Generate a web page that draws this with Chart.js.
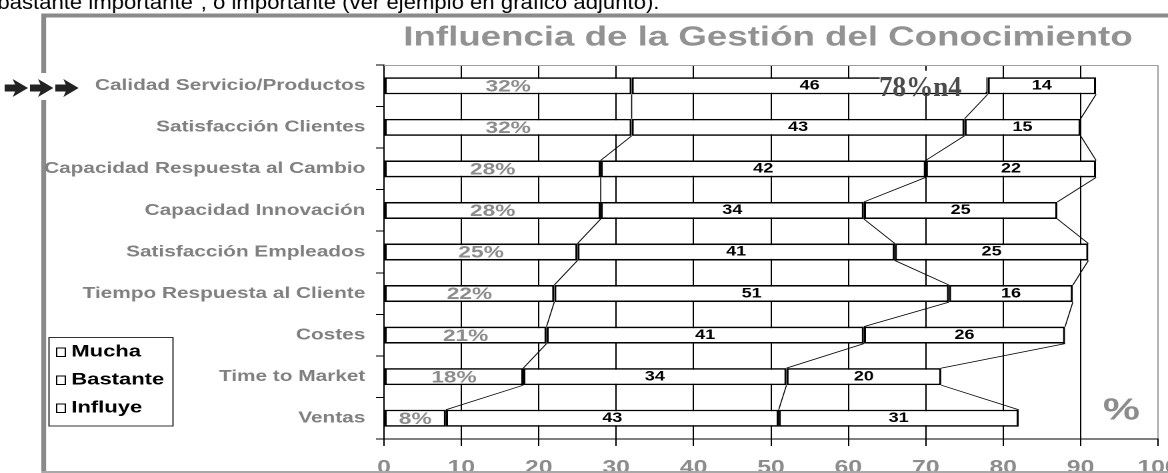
<!DOCTYPE html>
<html>
<head>
<meta charset="utf-8">
<script src="https://cdn.jsdelivr.net/npm/chart.js@4/dist/chart.umd.min.js"></script>
<style>
  html, body { margin: 0; padding: 0; background: #fff; overflow: hidden; }
  /* the source picture is stretched sideways, so the whole chart is too */
  #wrap { width: 876px; height: 473px; transform: scaleX(1.33333); transform-origin: 0 0; }
</style>
</head>
<body>
<div id="wrap"><canvas id="chart"></canvas></div>
<script>
const categories = [
  'Calidad Servicio/Productos',
  'Satisfacción Clientes',
  'Capacidad Respuesta al Cambio',
  'Capacidad Innovación',
  'Satisfacción Empleados',
  'Tiempo Respuesta al Cliente',
  'Costes',
  'Time to Market',
  'Ventas'
];
const seriesNames = ['Mucha', 'Bastante', 'Influye'];
const mucha = [32, 32, 28, 28, 25, 22, 21, 18, 8];
const bastante = [46, 43, 42, 34, 41, 51, 41, 34, 43];
const influye = [14, 15, 22, 25, 25, 16, 26, 20, 31];
const xTicks = [0, 10, 20, 30, 40, 50, 60, 70, 80, 90, 100];
const extraLabel = '78%n4';
const title = 'Influencia de la Gestión del Conocimiento';
const topText = 'bastante importante", o importante (ver ejemplo en gráfico adjunto).';

const GREY = '#8c8c8c';
const FONT = "'Liberation Sans', Arial, sans-serif";

const decor = {
  id: 'decor',
  beforeDraw(chart) {
    const c = chart.ctx;
    c.save();
    c.fillStyle = '#fff';
    c.fillRect(0, 0, chart.width, chart.height);
    // sentence cut off above the chart
    c.save();
    c.fillStyle = '#000';
    c.font = '16.6px ' + FONT;
    c.textBaseline = 'alphabetic';
    c.translate(-2, 9);
    c.scale(1, 1.25);
    c.fillText(topText, 0, 0);
    c.restore();
    // grey frame
    c.fillStyle = '#8a8a8a';
    c.fillRect(31, 13.5, chart.width, 4);
    c.fillRect(31, 13.5, 3.6, chart.height);
    // title
    c.fillStyle = '#929292';
    c.font = 'bold 27.5px ' + FONT;
    c.textAlign = 'center';
    c.textBaseline = 'middle';
    c.fillText(title, 576, 38);
    c.restore();
  },
  afterDatasetsDraw(chart) {
    const c = chart.ctx;
    c.save();
    // series lines between bars
    c.strokeStyle = '#000';
    c.lineWidth = 0.8;
    chart.data.datasets.forEach((ds, d) => {
      const pts = chart.getDatasetMeta(d).data;
      for (let i = 0; i < pts.length - 1; i++) {
        const a = pts[i], b = pts[i + 1];
        c.beginPath();
        c.moveTo(a.x, a.y + a.height / 2);
        c.lineTo(b.x, b.y - b.height / 2);
        c.stroke();
      }
    });
    // value labels
    c.textAlign = 'center';
    c.textBaseline = 'middle';
    chart.data.datasets.forEach((ds, d) => {
      chart.getDatasetMeta(d).data.forEach((el, i) => {
        const x = (el.x + el.base) / 2;
        if (d === 0) {
          c.fillStyle = GREY;
          c.font = 'bold 17px ' + FONT;
          c.fillText(ds.data[i] + '%', x, el.y + 1);
        } else {
          c.fillStyle = '#000';
          c.font = 'bold 13.5px ' + FONT;
          c.fillText(String(ds.data[i]), x, el.y);
        }
      });
    });
    // odd label on the first bar
    const el = chart.getDatasetMeta(1).data[0];
    c.fillStyle = '#fff';
    c.fillRect(el.x - 81, el.y - 15, 80, 21);
    c.fillStyle = '#4a4a4a';
    c.font = 'bold 28px "Liberation Serif", "Times New Roman", serif';
    c.textAlign = 'right';
    c.textBaseline = 'alphabetic';
    const w = c.measureText(extraLabel).width;
    c.translate(el.x - 19.5, el.y + 10);
    c.scale(62 / w, 1);
    c.fillText(extraLabel, 0, 0);
    c.restore();
  },
  afterDraw(chart) {
    const c = chart.ctx;
    const a = chart.chartArea;
    c.save();
    // plot frame top
    c.strokeStyle = '#a0a0a0';
    c.lineWidth = 1;
    c.beginPath();
    c.moveTo(a.left, a.top + 0.5);
    c.lineTo(a.right, a.top + 0.5);
    c.stroke();
    // arrows
    c.fillStyle = '#fff';
    c.fillRect(28, 73, 36, 27);
    c.fillStyle = '#222';
    [3.5, 22.5, 41.5].forEach(x0 => {
      c.fillRect(x0, 84.5, 10, 7);
      c.beginPath();
      c.moveTo(x0 + 6, 79);
      c.lineTo(x0 + 17.5, 88);
      c.lineTo(x0 + 6, 97);
      c.lineTo(x0 + 9, 88);
      c.closePath();
      c.fill();
    });
    // legend
    c.fillStyle = '#fff';
    c.fillRect(36.75, 337, 93, 89);
    c.strokeStyle = '#333';
    c.lineWidth = 1;
    c.strokeRect(36.75, 337.5, 93, 88.5);
    c.font = 'bold 16.5px ' + FONT;
    c.textAlign = 'left';
    c.textBaseline = 'middle';
    [352, 380, 408].forEach((y, i) => {
      c.strokeStyle = '#000';
      c.strokeRect(42.5, y - 4, 6.5, 8.5);
      c.fillStyle = '#000';
      c.fillText(seriesNames[i], 53.5, y);
    });
    // unit
    c.fillStyle = GREY;
    c.font = 'bold 31px ' + FONT;
    c.textAlign = 'center';
    c.fillText('%', 841, 411);
    // frame bottom
    c.fillStyle = '#a8a8a8';
    c.fillRect(31, 471, chart.width, 2);
    c.restore();
  }
};

new Chart(document.getElementById('chart'), {
  type: 'bar',
  data: {
    labels: categories,
    datasets: [
      { label: seriesNames[0], data: mucha },
      { label: seriesNames[1], data: bastante },
      { label: seriesNames[2], data: influye }
    ].map(ds => Object.assign(ds, {
      backgroundColor: '#fff',
      borderColor: '#000',
      borderWidth: 1.6,
      borderSkipped: false,
      barPercentage: 0.41,
      categoryPercentage: 1
    }))
  },
  options: {
    indexAxis: 'y',
    responsive: true,
    maintainAspectRatio: false,
    devicePixelRatio: 2,
    animation: false,
    layout: { padding: { top: 65, right: 7.5, bottom: 0, left: 0 } },
    plugins: { legend: { display: false }, tooltip: { enabled: false } },
    scales: {
      x: {
        stacked: true,
        min: 0,
        max: 100,
        afterBuildTicks: s => { s.ticks = xTicks.map(v => ({ value: v })); },
        afterFit: s => { s.height = 34; s.paddingLeft = 0; s.paddingRight = 0; },
        grid: {
          color: ctx => (ctx.tick && ctx.tick.value === 100 ? '#a0a0a0' : '#000'),
          tickColor: '#000',
          tickLength: 7,
          lineWidth: 1
        },
        border: { color: '#000', width: 1 },
        ticks: {
          autoSkip: false,
          maxRotation: 0,
          padding: 11,
          color: GREY,
          font: { family: FONT, size: 18.5, weight: 'bold' }
        }
      },
      y: {
        stacked: true,
        afterFit: s => { s.width = 288; s.paddingTop = 0; s.paddingBottom = 0; },
        grid: {
          offset: true,
          drawOnChartArea: false,
          tickLength: 6,
          color: '#000'
        },
        border: { color: '#000', width: 1 },
        ticks: {
          padding: 8,
          color: '#808080',
          font: { family: FONT, size: 15.6, weight: 'bold' }
        }
      }
    }
  },
  plugins: [decor]
});
</script>
</body>
</html>
